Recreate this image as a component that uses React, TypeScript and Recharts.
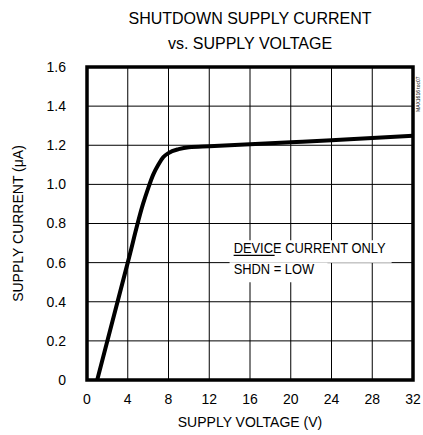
import React from 'react';
import { LineChart, Line, XAxis, YAxis, CartesianGrid, ReferenceArea, Label } from 'recharts';

const voltage = [1, 4, 5.5, 6, 6.5, 7, 7.5, 8, 9, 10, 12, 16, 20, 24, 28, 32];
const current = [0, 0.6, 0.9, 0.98, 1.05, 1.1, 1.14, 1.16, 1.18, 1.19, 1.195, 1.205, 1.215, 1.225, 1.237, 1.248];
const xTicks = [0, 4, 8, 12, 16, 20, 24, 28, 32];
const yTicks = [0, 0.2, 0.4, 0.6, 0.8, 1.0, 1.2, 1.4, 1.6];
const titleLines = ['SHUTDOWN SUPPLY CURRENT', 'vs. SUPPLY VOLTAGE'];
const xLabel = 'SUPPLY VOLTAGE (V)';
const yLabel = 'SUPPLY CURRENT (\u03bcA)';
const noteLines = ['DEVICE CURRENT ONLY', 'SHDN = LOW'];
const sideTag = 'MAX1616 toc07';

const data = voltage.map((v, i) => ({ v, i: current[i] }));

const FONT = 'Liberation Sans, Arial, Helvetica, sans-serif';

const NoteContent = (props: any) => {
  const vb = props.viewBox || {};
  const x = vb.x + 4;
  const y = vb.y;
  return (
    <g>
      <g transform={`translate(${x},${y - 9.5}) scale(0.86,1)`}>
        <text x={0} y={0} fontSize={15} fontFamily={FONT} fill="#000">{noteLines[0]}</text>
      </g>
      <line x1={x} x2={x + 41} y1={y - 7.3} y2={y - 7.3} stroke="#000" strokeWidth={1.2} />
      <g transform={`translate(${x},${y + 11})`}>
        <g transform="scale(0.86,1)">
          <text x={0} y={0} fontSize={15} fontFamily={FONT} fill="#000">{noteLines[1]}</text>
        </g>
      </g>
    </g>
  );
};

export default function App() {
  return (
    <div style={{ position: 'absolute', left: 0, top: 0, width: 423, height: 435, background: '#fff', fontFamily: FONT }}>
      <div style={{ position: 'absolute', left: 0, top: 6, width: 500, textAlign: 'center', fontSize: 16, lineHeight: '25px', color: '#000' }}>
        <div>{titleLines[0]}</div>
        <div>{titleLines[1]}</div>
      </div>
      <LineChart width={423} height={435} data={data} margin={{ top: 67, right: 10, left: 0, bottom: 0 }}>
        <CartesianGrid stroke="#000" strokeWidth={1} strokeOpacity={1} />
        <XAxis
          dataKey="v"
          type="number"
          domain={[0, 32]}
          ticks={xTicks}
          height={55}
          axisLine={false}
          tickLine={false}
          tickSize={6}
          tickMargin={8}
          tick={{ fill: '#000', fontSize: 14, fontFamily: FONT }}
          interval={0}
        >
          <Label value={xLabel} position="insideBottom" offset={8} fill="#000" fontSize={14} fontFamily={FONT} />
        </XAxis>
        <YAxis
          type="number"
          domain={[0, 1.6]}
          ticks={yTicks}
          width={87}
          axisLine={false}
          tickLine={false}
          tickSize={6}
          tickMargin={15}
          interval={0}
          tick={{ fill: '#000', fontSize: 14, fontFamily: FONT }}
          tickFormatter={(v: number) => (v === 0 ? '0' : v.toFixed(1))}
        >
          <Label value={yLabel} angle={-90} position="insideLeft" offset={18} fill="#000" fontSize={14} fontFamily={FONT} style={{ textAnchor: 'middle' }} />
        </YAxis>
        <ReferenceArea x1={14} x2={29.9} y1={0.6} y2={0.715} fill="#fff" fillOpacity={1} stroke="none" ifOverflow="visible" />
        <ReferenceArea x1={14} x2={23.6} y1={0.5} y2={0.6} fill="#fff" fillOpacity={1} stroke="none" ifOverflow="visible">
          <Label content={NoteContent} />
        </ReferenceArea>
        <ReferenceArea x1={0} x2={32} y1={0} y2={1.6} fill="none" fillOpacity={0} stroke="#000" strokeWidth={3.5} ifOverflow="visible" />
        <Line type="monotone" dataKey="i" stroke="#000" strokeWidth={4} dot={false} isAnimationActive={false} />
      </LineChart>
      <svg style={{ position: 'absolute', left: 412, top: 55 }} width={11} height={60}>
        <text x={0} y={0} transform="translate(8,57) rotate(-90)" fontSize={5} fontFamily={FONT} fill="#000">{sideTag}</text>
      </svg>
    </div>
  );
}
